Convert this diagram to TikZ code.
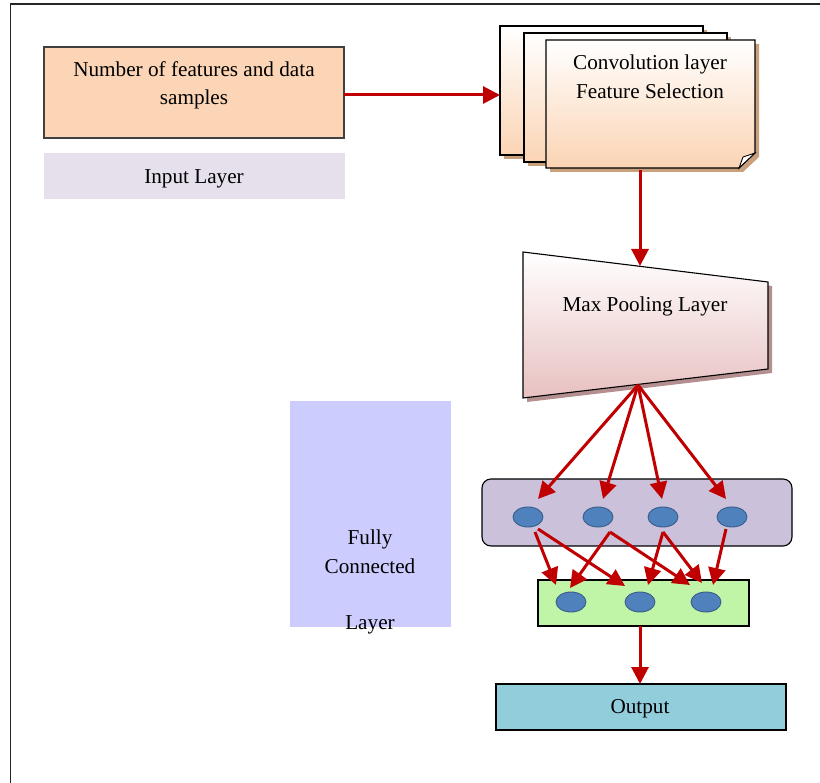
\documentclass[tikz,border=0pt]{standalone}
\usepackage{fontspec}
\setmainfont{Liberation Serif}
\usetikzlibrary{arrows.meta,shapes.geometric}
\definecolor{arrred}{HTML}{C00000}
\definecolor{inpeach}{HTML}{FBD5B5}
\definecolor{inlayer}{HTML}{E5E0EC}
\definecolor{fcblue}{HTML}{CCCCFF}
\definecolor{purp}{HTML}{CCC1DA}
\definecolor{grn}{HTML}{C0F5A8}
\definecolor{outblue}{HTML}{92CDDC}
\definecolor{ellfill}{HTML}{4F81BD}
\definecolor{elldraw}{HTML}{385D8A}
\definecolor{convpeach}{HTML}{FBD4B4}
\definecolor{convshadow}{HTML}{C9A07C}
\definecolor{poolpink}{HTML}{E8C0C0}
\definecolor{poolshadow}{HTML}{B38F8F}
\tikzset{
  arr/.style={draw=arrred, line width=3pt, -{Triangle[length=17pt,width=17pt]}},
  box/.style={rectangle, inner sep=0pt, outer sep=0pt, line width=1.1pt},
  neuron/.style={ellipse, fill=ellfill, draw=elldraw, line width=0.9pt, minimum width=30pt, minimum height=20pt, inner sep=0pt},
  lbl/.style={anchor=base, inner sep=0pt, font=\fontsize{21.2}{28}\selectfont},
  sheet/.style={top color=white, bottom color=convpeach, draw=black, line width=1.1pt},
}
\begin{document}
\begin{tikzpicture}[x=1pt,y=-1pt]
\useasboundingbox (0,0) rectangle (820,783);
% frame
\draw[line width=1.3pt, black!85] (10.5,783) -- (10.5,4) -- (820,4);
% input
\node[box, draw=black!75, fill=inpeach, minimum width=300pt, minimum height=91pt] (inbox) at (194,92.5) {};
\node[lbl] (intxt1) at (194,77) {Number of features and data};
\node[lbl] (intxt2) at (194,105) {samples};
\node[box, fill=inlayer, minimum width=301pt, minimum height=46pt] (inlayer) at (194.5,176) {};
\node[lbl] (inlayertxt) at (194,184) {Input Layer};
% conv sheets
\fill[convshadow] (504,30) rectangle (707,159);
\shadedraw[sheet] (500,26) rectangle (703,155);
\fill[convshadow] (528,37) rectangle (731,166);
\shadedraw[sheet] (524,33) rectangle (727,162);
\fill[convshadow] (550,44) -- (759,44) -- (759,157) -- (743,172) -- (550,172) -- cycle;
\shadedraw[sheet] (546,40) -- (755,40) -- (755,153) -- (739,168) -- (546,168) -- cycle;
\filldraw[fill=white, draw=black, line width=0.9pt] (739,168) .. controls (741,162) .. (743,157) -- (755,153) -- cycle;
\coordinate (convL) at (500,95);
\coordinate (convB) at (640,170);
\node[lbl] (convtxt1) at (650,70) {Convolution layer};
\node[lbl] (convtxt2) at (650,99) {Feature Selection};
% pooling trapezoid
\fill[poolshadow] (527,256) -- (772,286) -- (772,373) -- (527,402) -- cycle;
\shadedraw[top color=white, bottom color=poolpink, draw=black, line width=1.1pt] (523,252) -- (768,282) -- (768,369) -- (523,398) -- cycle;
\coordinate (poolT) at (640,266);
\coordinate (poolB) at (638,385);
\node[lbl] (pooltxt) at (645,312) {Max Pooling Layer};
% fully connected label box
\node[box, fill=fcblue, minimum width=161pt, minimum height=226pt] (fc) at (370.5,514) {};
\node[lbl] (fc1) at (370,544) {Fully};
\node[lbl] (fc2) at (370,573) {Connected};
\node[lbl] (fc3) at (370,629) {Layer};
% hidden layer
\node[box, draw=black, fill=purp, rounded corners=9pt, minimum width=310pt, minimum height=67pt] (hid) at (637,512.5) {};
\node[neuron] (h1) at (528,517) {};
\node[neuron] (h2) at (598,517) {};
\node[neuron] (h3) at (663,517) {};
\node[neuron] (h4) at (732,517) {};
% output layer of neurons
\node[box, draw=black, fill=grn, minimum width=211pt, minimum height=46pt] (grnbox) at (643.5,603) {};
\node[neuron] (o1) at (571,602) {};
\node[neuron] (o2) at (640,602) {};
\node[neuron] (o3) at (706,602) {};
% output
\node[box, draw=black, fill=outblue, minimum width=290pt, minimum height=46pt] (out) at (641,707) {};
\node[lbl] (outtxt) at (640,713) {Output};
% arrow coordinates
\coordinate (t1) at (538,499);
\coordinate (t2) at (603,499);
\coordinate (t3) at (662,499);
\coordinate (t4) at (726,499);
\coordinate (s1a) at (535,532);
\coordinate (s1b) at (538,529);
\coordinate (s2) at (610,532);
\coordinate (s3) at (663,532);
\coordinate (s4) at (726,529);
\coordinate (u1) at (556,585);
\coordinate (u2) at (625,586);
\coordinate (u3) at (570,588);
\coordinate (u4) at (690,585);
\coordinate (u5) at (648,585);
\coordinate (u6) at (702,583);
\coordinate (u7) at (713,585);
\coordinate (gB) at (640,626);
\coordinate (oT) at (640,684);
% arrows
\draw[arr] (inbox.east |- convL) -- (convL);
\draw[arr] (convB) -- (poolT);
\draw[arr] (poolB) -- (t1);
\draw[arr] (poolB) -- (t2);
\draw[arr] (poolB) -- (t3);
\draw[arr] (poolB) -- (t4);
\draw[arr] (s1a) -- (u1);
\draw[arr] (s1b) -- (u2);
\draw[arr] (s2) -- (u3);
\draw[arr] (s2) -- (u4);
\draw[arr] (s3) -- (u5);
\draw[arr] (s3) -- (u6);
\draw[arr] (s4) -- (u7);
\draw[arr] (gB) -- (oT);
\end{tikzpicture}
\end{document}
